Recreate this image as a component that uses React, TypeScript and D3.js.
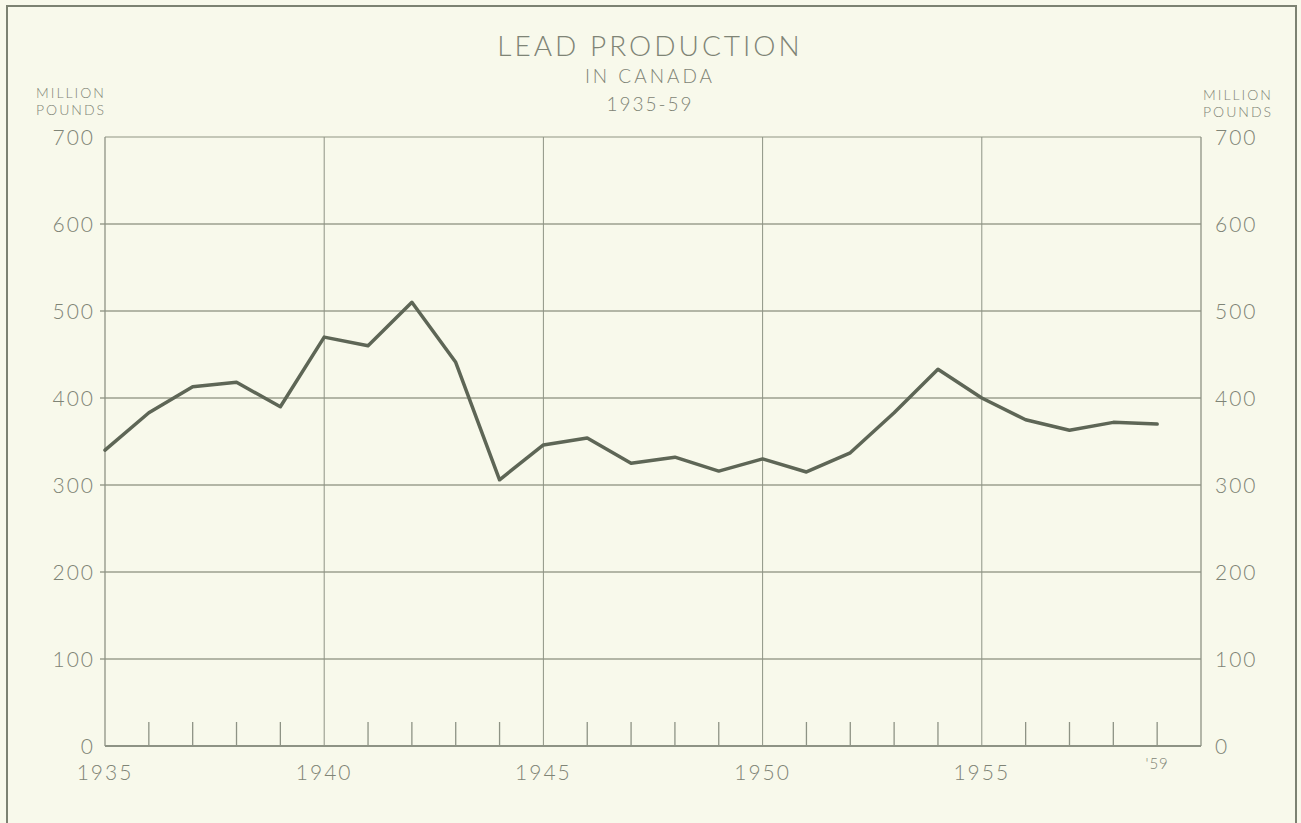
import React from "react";
import * as d3 from "d3";

const years = d3.range(1935, 1960);
const production = [340, 383, 413, 418, 390, 470, 460, 510, 441, 306, 346, 354, 325, 332, 316, 330, 315, 337, 383, 433, 400, 375, 363, 372, 370];
const yTicks = [0, 100, 200, 300, 400, 500, 600, 700];
const majorYears = [1940, 1945, 1950, 1955];
const xLabels = [
  { year: 1935, label: "1935" },
  { year: 1940, label: "1940" },
  { year: 1945, label: "1945" },
  { year: 1950, label: "1950" },
  { year: 1955, label: "1955" },
];
const lastLabel = { year: 1959, label: "'59" };
const titleLines = ["LEAD PRODUCTION", "IN CANADA", "1935-59"];
const unitLines = ["MILLION", "POUNDS"];

const W = 1301;
const H = 823;
const FONT = "Lato, 'DejaVu Sans', sans-serif";
const TEXT = "#7f8476";
const GRID = "#b3b6a6";
const AXIS = "#8e9385";
const LINE = "#5e6656";
const BG = "#f8f9eb";

export default function App() {
  const x = d3.scaleLinear().domain([1935, 1960]).range([105, 1201]);
  const y = d3.scaleLinear().domain([0, 700]).range([746, 137]);
  const line = d3
    .line<number>()
    .x((_, i) => x(years[i]))
    .y((d) => y(d));

  const minorYears = years.filter((yr) => yr !== 1935 && !majorYears.includes(yr));

  return (
    <div style={{ position: "absolute", left: 0, top: 0, width: W, height: H, overflow: "hidden" }}>
      <svg width={W} height={H} style={{ display: "block", background: BG }}>
        <rect x={0} y={0} width={W} height={H} fill={BG} />
        {/* outer frame */}
        <rect x={7} y={6} width={1289} height={830} fill="none" stroke="#7c8272" strokeWidth={2} />

        {/* horizontal gridlines */}
        {yTicks.filter((t) => t > 0 && t < 700).map((t) => (
          <line key={"g" + t} x1={x(1935) - 5} x2={x(1960)} y1={y(t)} y2={y(t)} stroke={GRID} strokeWidth={1.8} />
        ))}
        {/* top border */}
        <line x1={x(1935)} x2={x(1960)} y1={y(700)} y2={y(700)} stroke={GRID} strokeWidth={1.5} />

        {/* vertical gridlines */}
        {majorYears.map((yr) => (
          <line key={"v" + yr} x1={x(yr)} x2={x(yr)} y1={y(700)} y2={y(0)} stroke={AXIS} strokeWidth={1} />
        ))}
        {/* minor ticks */}
        {minorYears.map((yr) => (
          <line key={"m" + yr} x1={x(yr)} x2={x(yr)} y1={y(0)} y2={y(0) - 24} stroke={AXIS} strokeWidth={1.3} />
        ))}

        {/* left and right axes */}
        <line x1={x(1935)} x2={x(1935)} y1={y(700)} y2={y(0)} stroke={AXIS} strokeWidth={1.3} />
        <line x1={x(1960)} x2={x(1960)} y1={y(700)} y2={y(0)} stroke={AXIS} strokeWidth={1.3} />
        {/* bottom axis */}
        <line x1={x(1935)} x2={x(1960)} y1={y(0)} y2={y(0)} stroke={AXIS} strokeWidth={2} />

        {/* y labels */}
        {yTicks.map((t) => (
          <g key={"yl" + t}>
            <text x={95} y={y(t)} dy="0.36em" textAnchor="end" fontFamily={FONT} fontWeight={300} fontSize={21} letterSpacing={2} fill={TEXT}>
              {t}
            </text>
            <text x={1215} y={y(t)} dy="0.36em" textAnchor="start" fontFamily={FONT} fontWeight={300} fontSize={21} letterSpacing={2} fill={TEXT}>
              {t}
            </text>
          </g>
        ))}

        {/* x labels */}
        {xLabels.map((d) => (
          <text key={"xl" + d.year} x={x(d.year)} y={772} dy="0.36em" textAnchor="middle" fontFamily={FONT} fontWeight={300} fontSize={21} letterSpacing={2} fill={TEXT}>
            {d.label}
          </text>
        ))}
        <text x={x(lastLabel.year)} y={764} dy="0.36em" textAnchor="middle" fontFamily={FONT} fontWeight={300} fontSize={15} letterSpacing={1} fill={TEXT}>
          {lastLabel.label}
        </text>

        {/* unit labels */}
        {unitLines.map((s, i) => (
          <g key={"u" + i}>
            <text x={71} y={93 + i * 17} dy="0.36em" textAnchor="middle" fontFamily={FONT} fontWeight={300} fontSize={14} letterSpacing={2} fill={TEXT}>
              {s}
            </text>
            <text x={1238} y={95 + i * 17} dy="0.36em" textAnchor="middle" fontFamily={FONT} fontWeight={300} fontSize={14} letterSpacing={2} fill={TEXT}>
              {s}
            </text>
          </g>
        ))}

        {/* title */}
        <text x={650} y={46} dy="0.36em" textAnchor="middle" fontFamily={FONT} fontWeight={300} fontSize={28} letterSpacing={3} fill={TEXT}>
          {titleLines[0]}
        </text>
        <text x={650} y={76} dy="0.36em" textAnchor="middle" fontFamily={FONT} fontWeight={300} fontSize={19} letterSpacing={3} fill={TEXT}>
          {titleLines[1]}
        </text>
        <text x={650} y={104} dy="0.36em" textAnchor="middle" fontFamily={FONT} fontWeight={300} fontSize={19} letterSpacing={2} fill={TEXT}>
          {titleLines[2]}
        </text>

        {/* data line */}
        <path d={line(production) || ""} fill="none" stroke={LINE} strokeWidth={3.5} strokeLinejoin="round" strokeLinecap="round" />
      </svg>
    </div>
  );
}
